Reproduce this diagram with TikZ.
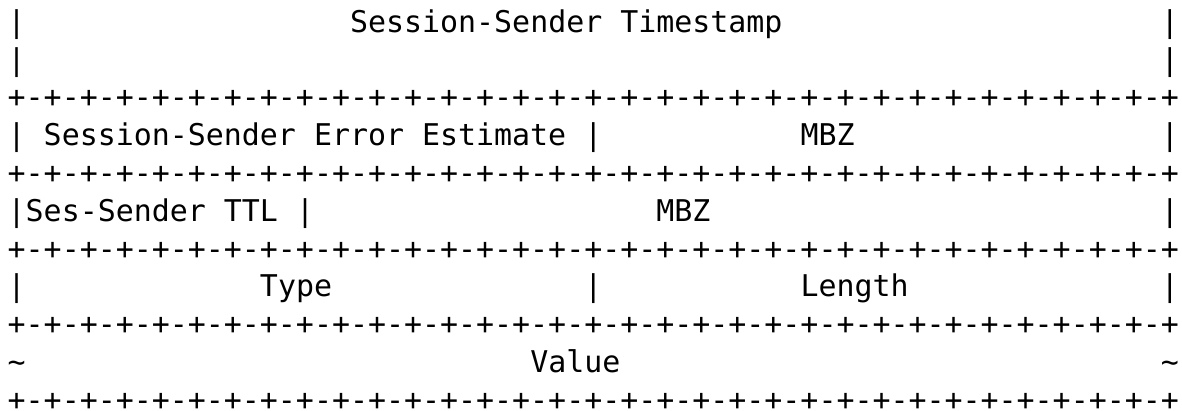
\documentclass[tikz,border=0pt]{standalone}
\usepackage{fontspec}
\newfontfamily\asciifont{DejaVu Sans Mono}
\newcommand{\sepline}{\foreach\k in {1,...,32}{+-}+}

\begin{document}
\begin{tikzpicture}[
     every node/.style = {anchor=base west, inner sep=0pt, outer sep=0pt,
         font=\asciifont\fontsize{29.93pt}{36pt}\selectfont}]
        \useasboundingbox (0pt,0pt) rectangle (1182pt,-411pt);
        \begin{scope}[shift={(7.7pt,-32.3pt)}, x=18.02pt, y=-37.8pt]
        % timestamp rows
        \node (tsl) at (0,0) {|};
        \node (ts) at (19,0) {Session-Sender Timestamp};
        \node (tsr) at (64,0) {|};
        \node (tsl2) at (0,1) {|};
        \node (tsr2) at (64,1) {|};
        % error estimate
        \node (errl) at (0,3) {|};
        \node (err) at (2,3) {Session-Sender Error Estimate};
        \node (errm) at (32,3) {|};
        \node (mbza) at (44,3) {MBZ};
        \node (errr) at (64,3) {|};
        % ttl
        \node (ttll) at (0,5) {|};
        \node (ttl) at (1,5) {Ses-Sender TTL};
        \node (ttlm) at (16,5) {|};
        \node (mbzb) at (36,5) {MBZ};
        \node (ttlr) at (64,5) {|};
        % type / length
        \node (typel) at (0,7) {|};
        \node (type) at (14,7) {Type};
        \node (typem) at (32,7) {|};
        \node (len) at (44,7) {Length};
        \node (lenr) at (64,7) {|};
        % value
        \node (vall) at (0,9) {\textasciitilde};
        \node (val) at (29,9) {Value};
        \node (valr) at (64,9) {\textasciitilde};
        % separator lines
        \foreach \r in {2,4,6,8,10}
          \node (sep\r) at (0,\r) {\sepline};
        \end{scope}
        \end{tikzpicture}
\end{document}
